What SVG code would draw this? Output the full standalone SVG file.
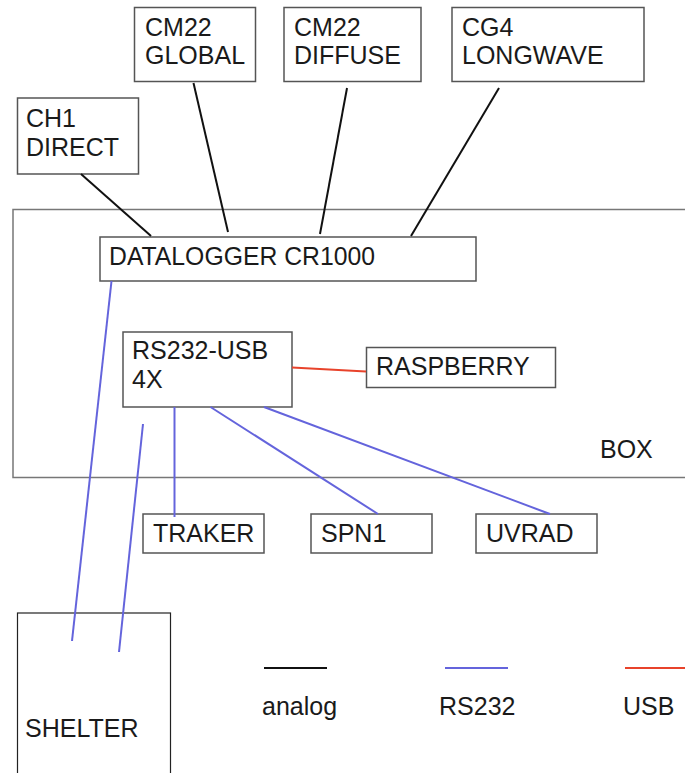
<svg xmlns="http://www.w3.org/2000/svg" width="685" height="773" viewBox="0 0 685 773">
<style>
.n{fill:#fff;stroke:#555;stroke-width:1.5}
.t{font-family:"Liberation Sans",Arial,sans-serif;font-size:25px;fill:#1a1a1a}
.a{stroke:#111;stroke-width:2;fill:none}
.r{stroke:#6464dc;stroke-width:2;fill:none}
.u{stroke:#e8432b;stroke-width:2;fill:none}
</style>
<rect width="685" height="773" fill="#fff"/>
<g id="box"><rect x="13" y="209.5" width="690" height="268" fill="none" stroke="#777" stroke-width="1.5"/><text class="t" x="600" y="458">BOX</text></g>
<g id="ch1"><rect class="n" x="17.5" y="98" width="121" height="76"/><text class="t" x="26" y="127">CH1</text><text class="t" x="26" y="156">DIRECT</text></g>
<g id="cm22g"><rect class="n" x="134.5" y="7.5" width="121" height="74"/><text class="t" x="145" y="36">CM22</text><text class="t" x="145" y="64">GLOBAL</text></g>
<g id="cm22d"><rect class="n" x="284" y="7.5" width="137" height="74"/><text class="t" x="294" y="36">CM22</text><text class="t" x="294" y="64">DIFFUSE</text></g>
<g id="cg4"><rect class="n" x="452" y="7.5" width="192" height="74"/><text class="t" x="462" y="36">CG4</text><text class="t" x="462" y="64">LONGWAVE</text></g>
<g id="datalogger"><rect class="n" x="100" y="237" width="376" height="44"/><text class="t" x="109" y="265" textLength="266" lengthAdjust="spacingAndGlyphs">DATALOGGER CR1000</text></g>
<g id="rs232usb"><rect class="n" x="123" y="332" width="169" height="75"/><text class="t" x="132" y="359">RS232-USB</text><text class="t" x="132" y="388">4X</text></g>
<g id="raspberry"><rect class="n" x="366.5" y="347.5" width="189" height="40"/><text class="t" x="376" y="375">RASPBERRY</text></g>
<g id="traker"><rect class="n" x="143" y="514" width="121" height="39"/><text class="t" x="153" y="542">TRAKER</text></g>
<g id="spn1"><rect class="n" x="311" y="514" width="121" height="39"/><text class="t" x="321" y="542">SPN1</text></g>
<g id="uvrad"><rect class="n" x="476" y="514" width="121" height="39"/><text class="t" x="486" y="542">UVRAD</text></g>
<g id="shelter"><rect x="17.5" y="613" width="153" height="170" fill="#fff" stroke="#222" stroke-width="1.2"/><text class="t" x="25" y="737">SHELTER</text></g>
<g id="connectors">
<line class="a" x1="81" y1="174" x2="151" y2="236"/>
<line class="a" x1="193.5" y1="83" x2="228" y2="232"/>
<line class="a" x1="347" y1="88" x2="320" y2="234"/>
<line class="a" x1="499" y1="88" x2="411" y2="236"/>
<line class="r" x1="111.5" y1="281" x2="72" y2="641"/>
<line class="r" x1="143" y1="424" x2="119" y2="652"/>
<line class="r" x1="174.5" y1="407" x2="174.5" y2="517"/>
<line class="r" x1="210.5" y1="407" x2="378" y2="514"/>
<line class="r" x1="264" y1="407" x2="550" y2="514"/>
<line class="u" x1="292" y1="367.5" x2="366" y2="371.5"/>
</g>
<g id="legend">
<line class="a" x1="264" y1="668" x2="327" y2="668"/>
<line class="r" x1="445" y1="668" x2="508" y2="668"/>
<line class="u" x1="625" y1="668" x2="685" y2="668"/>
<text class="t" x="262" y="715">analog</text>
<text class="t" x="439" y="715">RS232</text>
<text class="t" x="623" y="715">USB</text>
</g>
</svg>
